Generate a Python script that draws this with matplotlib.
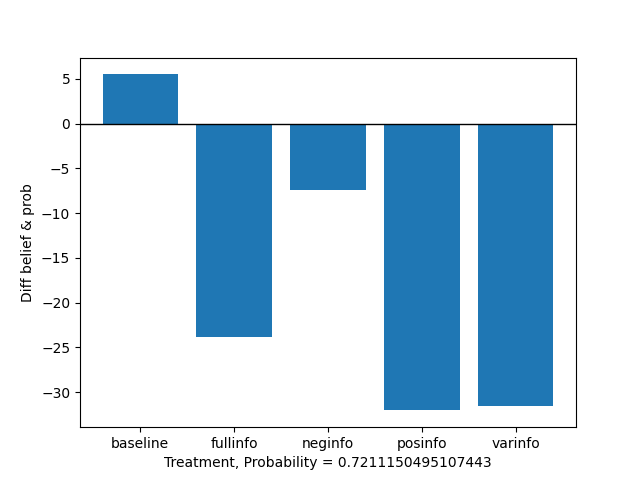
import matplotlib
matplotlib.use("Agg")
import matplotlib.pyplot as plt

# treatment groups and mean difference between belief and probability
treatments = ["baseline", "fullinfo", "neginfo", "posinfo", "varinfo"]
diffs = [5.5, -23.8, -7.45, -32.05, -31.6]
probability = 0.7211150495107443

fig, ax = plt.subplots(figsize=(6.4, 4.8), dpi=100)
ax.bar(treatments, diffs)
ax.axhline(0, color="black", linewidth=1)
ax.set_xlabel(f"Treatment, Probability = {probability}")
ax.set_ylabel("Diff belief & prob")

fig.savefig("out.png")
